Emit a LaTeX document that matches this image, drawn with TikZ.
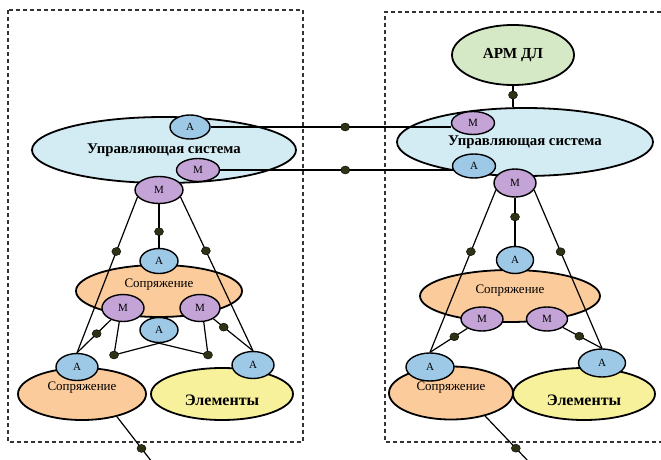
\documentclass[tikz,border=0pt]{standalone}
\usepackage{fontspec}
\setmainfont{Liberation Serif}
\usetikzlibrary{shapes.geometric}
\pgfdeclarelayer{bg}\pgfdeclarelayer{fg}\pgfsetlayers{bg,main,fg}
\definecolor{cUpr}{HTML}{D3ECF3}
\definecolor{cA}{HTML}{9DC8E6}
\definecolor{cM}{HTML}{C4A3D6}
\definecolor{cOr}{HTML}{FBCB9C}
\definecolor{cYe}{HTML}{F7F19B}
\definecolor{cGr}{HTML}{D6E9C6}
\definecolor{cDot}{HTML}{2F3316}
\tikzset{
  big/.style={ellipse, draw=black, line width=1.8pt, inner sep=0pt},
  small/.style={ellipse, draw=black, line width=1.4pt, inner sep=0pt, font=\fontsize{11}{11}\selectfont},
  anode/.style={small, fill=cA},
  mnode/.style={small, fill=cM},
  dot/.style={ellipse, fill=cDot, draw=black, line width=0.4pt, inner sep=0pt, minimum width=9pt, minimum height=8pt},
  conn/.style={line width=1.2pt},
  box/.style={draw=black!80, line width=1.1pt, dash pattern=on 4pt off 3pt},
  bigtext/.style={font=\fontsize{14.8}{14.8}\selectfont\bfseries},
  eltext/.style={font=\fontsize{16}{16}\selectfont\bfseries},
  armtext/.style={font=\fontsize{15.3}{15.3}\selectfont\bfseries},
  midtext/.style={font=\fontsize{13}{13}\selectfont},
}
\begin{document}
\begin{tikzpicture}[x=1pt,y=-1pt]
\useasboundingbox (0,0) rectangle (661,460);
\begin{pgfonlayer}{bg}
\fill[white] (0,0) rectangle (661,460);
% left
\node[big, fill=cUpr, minimum width=264pt, minimum height=66pt, bigtext] (U1) at (164,150) {Управляющая система};
\node[big, fill=cOr, minimum width=166pt, minimum height=52pt, label={[midtext, yshift=6pt]center:Сопряжение}] (S1) at (159,291) {};
\node[big, fill=cOr, minimum width=128pt, minimum height=52pt, label={[midtext, yshift=6pt]center:Сопряжение}] (SL) at (82,394) {};
\node[big, fill=cYe, minimum width=142pt, minimum height=52pt, label={[eltext, yshift=-6pt]center:Элементы}] (EL) at (222,394) {};
% right
\node[big, fill=cGr, minimum width=122pt, minimum height=60pt, armtext] (G) at (513,55) {АРМ ДЛ};
\node[big, fill=cUpr, minimum width=256pt, minimum height=68pt, bigtext] (U2) at (525,142) {Управляющая система};
\node[big, fill=cOr, minimum width=180pt, minimum height=52pt, label={[midtext, yshift=5pt]center:Сопряжение}] (S2) at (510,296) {};
\node[big, fill=cOr, minimum width=124pt, minimum height=53pt, label={[midtext, yshift=5pt]center:Сопряжение}] (SL2) at (451,393) {};
\node[big, fill=cYe, minimum width=142pt, minimum height=52pt, label={[eltext, yshift=-6pt]center:Элементы}] (EL2) at (584,394) {};
\end{pgfonlayer}

% dashed boxes
\draw[box] (8,10) rectangle (303,442);
\draw[box] (661,12) -- (385,12) -- (385,442) -- (661,442);

\begin{pgfonlayer}{fg}
% left small nodes
\node[anode, minimum width=40pt, minimum height=24pt] (A1) at (190,127) {А};
\node[mnode, minimum width=43pt, minimum height=23pt] (M1) at (198,170) {М};
\node[mnode, minimum width=48pt, minimum height=27pt] (M2) at (159,190) {М};
\node[anode, minimum width=38pt, minimum height=25pt] (Aa) at (159,261) {А};
\node[mnode, minimum width=42pt, minimum height=27pt] (Mm1) at (123,308) {М};
\node[mnode, minimum width=40pt, minimum height=27pt] (Mm2) at (200,308) {М};
\node[anode, minimum width=38pt, minimum height=25pt] (Am) at (159,330) {А};
\node[anode, minimum width=42pt, minimum height=27pt] (AL) at (77,367) {А};
\node[anode, minimum width=42pt, minimum height=27pt] (AR) at (253,365) {А};
% right small nodes
\node[mnode, minimum width=43pt, minimum height=23pt] (M1r) at (473,123) {М};
\node[anode, minimum width=43pt, minimum height=24pt] (A1r) at (474,166) {А};
\node[mnode, minimum width=42pt, minimum height=28pt] (M2r) at (515,183) {М};
\node[anode, minimum width=37pt, minimum height=27pt] (Aa2) at (515,260) {А};
\node[mnode, minimum width=42pt, minimum height=24pt] (Mr1) at (482,319) {М};
\node[mnode, minimum width=41pt, minimum height=24pt] (Mr2) at (547,319) {М};
\node[anode, minimum width=48pt, minimum height=28pt] (AL2) at (430,367) {А};
\node[anode, minimum width=47pt, minimum height=28pt] (AR2) at (602,363) {А};
% corner dots
\node[dot] (dL) at (114,355) {};
\node[dot] (dR) at (208,355) {};
\end{pgfonlayer}

\coordinate (end1) at (152,462);
\coordinate (end2) at (529,462);

\begin{scope}[conn]
% cross links
\draw (A1.east) -- node[dot, pos=0.56] (x1) {} (A1.east -| M1r.west);
\draw (M1.east) -- node[dot, pos=0.54] (x2) {} (M1.east -| A1r.west);
% left tree
\draw (M2.198) -- node[dot, pos=0.35] (l1) {} (AL.north);
\draw (M2.south) -- node[dot, pos=0.63] (l2) {} (Aa.north);
\draw (M2.342) -- node[dot, pos=0.35] (l3) {} (AR.north);
\draw (Mm1) -- node[dot, pos=0.42] (l4) {} (AL.north);
\draw (Mm2) -- node[dot, pos=0.26] (l5) {} (AR.north);
\draw (Mm1.255) -- (dL.center) -- (Am.south) -- (dR.center) -- (Mm2.285);
\draw (SL.-33) -- node[dot, pos=0.7] (l6) {} (end1);
% right tree
\draw (G.south) -- node[dot, pos=0.43] (r0) {} (G.south |- U2.north);
\draw (M2r.200) -- node[dot, pos=0.38] (r1) {} (AL2.north);
\draw (M2r.south) -- node[dot, pos=0.4] (r2) {} (Aa2.north);
\draw (M2r.340) -- node[dot, pos=0.39] (r3) {} (AR2.north);
\draw (Mr1) -- node[dot, pos=0.35] (r4) {} (AL2.north);
\draw (Mr2) -- node[dot, pos=0.42] (r5) {} (AR2.north);
\draw (SL2.-34) -- node[dot, pos=0.7] (r6) {} (end2);
\end{scope}
\end{tikzpicture}
\end{document}
